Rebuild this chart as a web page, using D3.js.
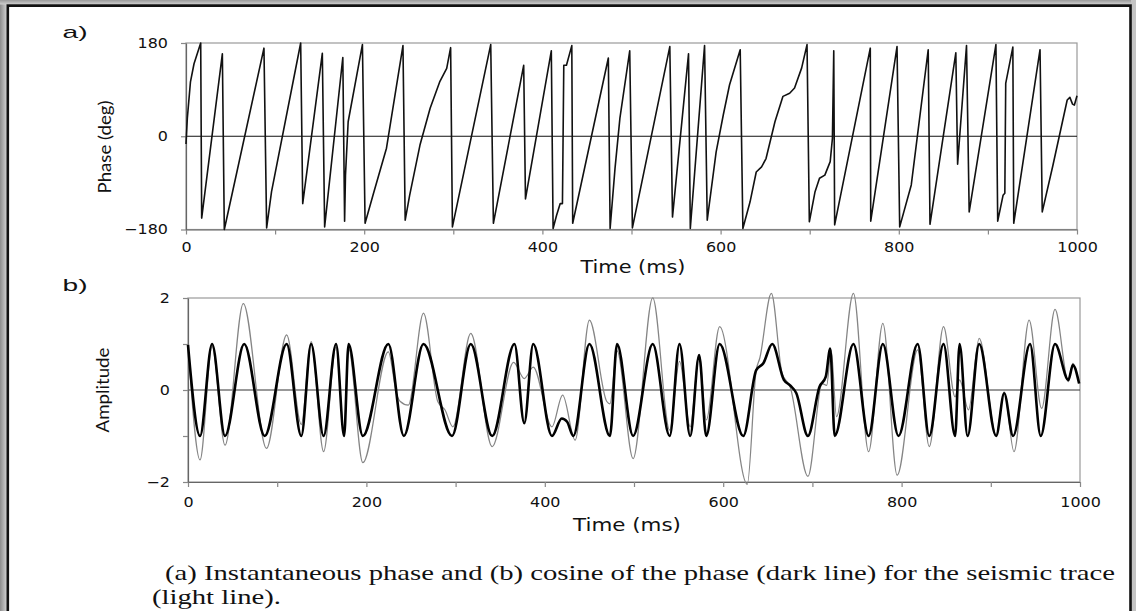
<!DOCTYPE html>
<html>
<head>
<meta charset="utf-8">
<script src="https://cdn.jsdelivr.net/npm/d3@7"></script>
<style>
  body { margin: 0; background: #fff; }
  svg { display: block; }
</style>
</head>
<body>
<svg id="chart" width="1136" height="611"></svg>
<script>
// instantaneous phase, [time ms, degrees]
var phase = [
  [0,-15],[1.5,35],[5,105],[9,140],[16.5,180],
  [17.6,-158],[40.8,159],
  [43,-180],[87.5,170],
  [90.5,-177],[96,-107],[128.7,180],
  [131,-130],[153,160],
  [155.6,-175],[176,152],
  [178,-164],[179,-75],[182,28],[198,177],
  [201,-168],[210,-113],[225,-23],[243.5,175],
  [246,-162],[251,-114],[262.6,-17],[274,54],[285,106],[292.6,131],[297,171],
  [299,-175],[342,177],
  [345,-168],[379,137],
  [381,-121],[410,165],
  [412,-178],[416,-152],[420,-130],[422.5,-130],[424,137],[427,137],[433,175],
  [434,-168],[474,151],
  [476,-178],[481.5,-62],[487,35],[498,165],
  [501,-177],[543,173],
  [546,-156],[564,159],
  [566,-178],[582,175],
  [585,-162],[595,-30],[603,41],[610,99],[622,167],
  [625,-178],[633,-127],[640,-69],[646,-59],[651,-43],[661,28],[670,77],[677.5,83],[683,93],[691,132],[697,177],
  [699.6,-165],[706,-107],[711,-81],[717,-75],[723,-49],[725.5,-4],[727,165],
  [728,-171],[768,170],
  [768.5,-164],[798,173],
  [801,-175],[814,-94],[833,167],
  [835,-170],[864,161],
  [866,-54],[876,175],
  [879,-146],[909,177],
  [911,-164],[917,-114],[919,-110],[920,102],[928,172],
  [929,-168],[958.5,167],
  [961,-146],[973,-56],[989,70],[992,75],[995,62],[997,60],[1000,78]
];

// cosine of the phase (dark line), [time ms, amplitude]
var cosPhase = [
  [0,0.98],[13.5,-1],[27,1],[41.5,-1],[63,1],[86,-1],[110.6,1],[127,-1],[138,1],
  [152,-1],[166,1],[175,-1],[180,1],[196,-1],[224.6,1],[242,-1],[264,1],[296,-1],
  [317,1],[341,-1],[366,1],[377,-0.72],[387,1],[408,-1],[419,-0.62],[425,-0.69],
  [432,-1],[450,1],[473,-1],[481,1],[499,-1],[521,1],[540,-1],[551,1],[563,-1],
  [573,0.76],[581,-1],[596,1],[622.5,-1],[637,0.43],[645,0.58],[655,1],[668,0.22],
  [675,0.1],[682,-0.07],[695,-1],[708,0.07],[715,0.29],[720,0.9],[725,-1],[746,1],
  [763,-1],[779,1],[796.5,-1],[818,1],[831,-1],[847,1],[860,-1],[865,1],[874,-1],
  [887,1],[906,-1],[915,-0.07],[925,-1],[944,1],[956,-1],[972,1],[987,0.22],
  [992,0.54],[999,0.14]
];

// seismic trace (light line), [time ms, amplitude]
var trace = [
  [0,1.0],[13.5,-1.52],[27,0.95],[41.5,-1.2],[62,1.88],[88,-1.27],[110.6,1.2],
  [127,-0.75],[138,1.05],[152,-1.34],[166,0.94],[175,-0.94],[180,0.9],[196,-1.58],
  [224.6,0.83],[234,-0.1],[238,-0.25],[247,-0.33],[264,1.67],[280,-0.25],[288,-0.43],
  [297,-0.8],[317,1.23],[341,-1.23],[365,0.6],[377,0.25],[387,0.5],[408,-0.8],
  [420,-0.11],[434,-1.09],[450,1.52],[469.5,-0.25],[473,-0.3],[481,0.85],[499,-1.49],
  [521,2.0],[540,-0.87],[551,0.62],[563,-0.8],[573,0.76],[581,-0.65],[596,1.38],
  [627,-2.05],[637,0.43],[641,0.69],[654,2.1],[666,0.36],[675,0.07],[695,-1.88],
  [711,0.14],[716,0.1],[721,0.87],[727,-0.58],[746,2.1],[763,-1.34],[779,1.45],
  [795,-1.85],[818,0.87],[831,-1.23],[847,1.38],[860,-0.15],[865,0.22],[875,-0.43],
  [887,1.12],[906,-0.98],[915,-0.04],[926,-1.34],[943,1.52],[957,-0.4],[972,1.75],
  [987,0.18],[992,0.58],[999,0.14]
];

var timeTicks = d3.range(0, 1001, 100);
var phaseTicks = [-180, 0, 180];
var ampTicks = [-2, -1, 0, 1, 2];
var captionLines = [
  "(a) Instantaneous phase and (b) cosine of the phase (dark line) for the seismic trace",
  "(light line)."
];

var svg = d3.select("#chart");
var W = 1136, H = 611;

// page frame
var defs = svg.append("defs");
var gl = defs.append("linearGradient").attr("id", "edgeL");
gl.append("stop").attr("offset", "0%").attr("stop-color", "#8c8c8c");
gl.append("stop").attr("offset", "100%").attr("stop-color", "#d4d4d4");
var gt = defs.append("linearGradient").attr("id", "edgeT")
  .attr("x1", 0).attr("y1", 0).attr("x2", 0).attr("y2", 1);
gt.append("stop").attr("offset", "0%").attr("stop-color", "#9a9a9a");
gt.append("stop").attr("offset", "100%").attr("stop-color", "#d0d0d0");

svg.append("rect").attr("width", W).attr("height", H).attr("fill", "#fff");
svg.append("rect").attr("x", 0).attr("y", 0).attr("width", 7).attr("height", H).attr("fill", "url(#edgeL)");
svg.append("rect").attr("x", 0).attr("y", 0).attr("width", W).attr("height", 4.5).attr("fill", "url(#edgeT)");
svg.append("rect").attr("x", 1131).attr("y", 0).attr("width", 5).attr("height", H).attr("fill", "#c4c4c4");
svg.append("path")
  .attr("d", "M7.8," + H + " V5.6 H1130.5 V" + H)
  .attr("fill", "none").attr("stroke", "#111").attr("stroke-width", 2.6);

function styleAxis(g) {
  g.select(".domain").attr("stroke", "#666").attr("stroke-width", 1.2);
  g.selectAll(".tick line").attr("stroke", "#888").attr("stroke-width", 1.2);
  g.selectAll(".tick text")
    .attr("fill", "#111")
    .attr("font-family", "DejaVu Sans")
    .attr("font-size", 13.5);
}

function stretchX(g, sx) {
  g.selectAll(".tick text").each(function() {
    var t = d3.select(this);
    var x = +t.attr("x") || 0;
    t.attr("x", 0).attr("transform", "translate(" + x + ",0) scale(" + sx + ",1)");
  });
}

function label(x, y, str, opts) {
  var t = svg.append("text")
    .attr("x", x).attr("y", y)
    .attr("font-family", opts.font)
    .attr("font-size", opts.size)
    .attr("fill", "#111")
    .attr("text-anchor", opts.anchor || "middle")
    .text(str);
  if (opts.rotate) t.attr("transform", "rotate(-90," + x + "," + y + ")");
  if (opts.len) t.attr("textLength", opts.len).attr("lengthAdjust", "spacingAndGlyphs");
  return t;
}

// ---------- panel a ----------
var x1 = d3.scaleLinear().domain([0, 1000]).range([186, 1077]);
var y1 = d3.scaleLinear().domain([-180, 180]).range([229.5, 43]);

svg.append("rect")
  .attr("x", x1(0)).attr("y", y1(180))
  .attr("width", x1(1000) - x1(0)).attr("height", y1(-180) - y1(180))
  .attr("fill", "none").attr("stroke", "#9a9a9a").attr("stroke-width", 1.2);

svg.append("line")
  .attr("x1", x1(0)).attr("x2", x1(1000))
  .attr("y1", y1(0)).attr("y2", y1(0))
  .attr("stroke", "#111").attr("stroke-width", 1);

var ax1 = svg.append("g")
  .attr("transform", "translate(0," + y1(-180) + ")")
  .call(d3.axisBottom(x1).tickValues(timeTicks).tickSize(5).tickPadding(8)
    .tickSizeOuter(0)
    .tickFormat(function(d) { return d % 200 === 0 ? d : ""; }));
styleAxis(ax1);
stretchX(ax1, 1.18);

var ay1 = svg.append("g")
  .attr("transform", "translate(" + x1(0) + ",0)")
  .call(d3.axisLeft(y1).tickValues(phaseTicks).tickSize(5).tickPadding(13)
    .tickSizeOuter(0)
    .tickFormat(function(d) { return d < 0 ? "\u2212" + Math.abs(d) : d; }));
styleAxis(ay1);
stretchX(ay1, 1.18);

var phaseLine = d3.line()
  .x(function(d) { return x1(d[0]); })
  .y(function(d) { return y1(d[1]); });

svg.append("path")
  .datum(phase)
  .attr("d", phaseLine)
  .attr("fill", "none")
  .attr("stroke", "#111")
  .attr("stroke-width", 1.6)
  .attr("stroke-linejoin", "round");

label(75, 38, "a)", { font: "Liberation Sans", size: 17, len: 25 });
label(633, 273, "Time (ms)", { font: "DejaVu Sans", size: 17.5, len: 105 });
label(111, 147, "Phase (deg)", { font: "Lato", size: 17, rotate: true, len: 93 });

// ---------- panel b ----------
var x2 = d3.scaleLinear().domain([0, 1000]).range([188, 1080]);
var y2 = d3.scaleLinear().domain([-2, 2]).range([482, 298]);

svg.append("rect")
  .attr("x", x2(0)).attr("y", y2(2))
  .attr("width", x2(1000) - x2(0)).attr("height", y2(-2) - y2(2))
  .attr("fill", "none").attr("stroke", "#9a9a9a").attr("stroke-width", 1.2);

svg.append("line")
  .attr("x1", x2(0)).attr("x2", x2(1000))
  .attr("y1", y2(0)).attr("y2", y2(0))
  .attr("stroke", "#333").attr("stroke-width", 1);

var ax2 = svg.append("g")
  .attr("transform", "translate(0," + y2(-2) + ")")
  .call(d3.axisBottom(x2).tickValues(timeTicks).tickSize(5).tickPadding(10)
    .tickSizeOuter(0)
    .tickFormat(function(d) { return d % 200 === 0 ? d : ""; }));
styleAxis(ax2);
stretchX(ax2, 1.18);

var ay2 = svg.append("g")
  .attr("transform", "translate(" + x2(0) + ",0)")
  .call(d3.axisLeft(y2).tickValues(ampTicks).tickSize(5).tickPadding(13)
    .tickSizeOuter(0)
    .tickFormat(function(d) { return d % 2 === 0 ? (d < 0 ? "\u2212" + Math.abs(d) : d) : ""; }));
styleAxis(ay2);
stretchX(ay2, 1.18);

var ampLine = d3.line()
  .x(function(d) { return x2(d[0]); })
  .y(function(d) { return y2(d[1]); })
  .curve(d3.curveMonotoneX);

svg.append("path")
  .datum(trace)
  .attr("d", ampLine)
  .attr("fill", "none")
  .attr("stroke", "#858585")
  .attr("stroke-width", 1.25);

svg.append("path")
  .datum(cosPhase)
  .attr("d", ampLine)
  .attr("fill", "none")
  .attr("stroke", "#000")
  .attr("stroke-width", 2.6)
  .attr("stroke-linejoin", "round");

label(75, 291, "b)", { font: "Liberation Sans", size: 17, len: 25 });
label(627, 531, "Time (ms)", { font: "DejaVu Sans", size: 17, len: 108 });
label(109, 390, "Amplitude", { font: "Lato", size: 17, rotate: true, len: 85 });

// ---------- caption ----------
var cap1 = svg.append("text")
  .attr("x", 165).attr("y", 580)
  .attr("font-family", "Liberation Serif").attr("font-size", 22)
  .attr("fill", "#111")
  .text(captionLines[0]);
var natural = cap1.node().getComputedTextLength();
var target = 1115 - 165;
cap1.attr("textLength", target).attr("lengthAdjust", "spacingAndGlyphs");
var cap2 = svg.append("text")
  .attr("x", 152).attr("y", 604)
  .attr("font-family", "Liberation Serif").attr("font-size", 22)
  .attr("fill", "#111")
  .text(captionLines[1]);
cap2.attr("textLength", cap2.node().getComputedTextLength() * target / natural)
  .attr("lengthAdjust", "spacingAndGlyphs");
</script>
</body>
</html>
